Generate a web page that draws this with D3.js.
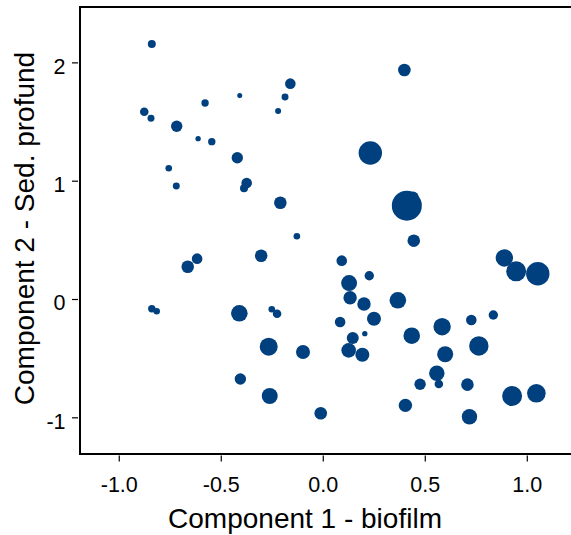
<!DOCTYPE html>
<html>
<head>
<meta charset="utf-8">
<script src="https://cdn.jsdelivr.net/npm/d3@7"></script>
<style>
  html, body { margin: 0; padding: 0; background: #fff; }
  svg { display: block; font-family: "Liberation Sans", Arial, sans-serif; }
</style>
</head>
<body>
<svg id="chart" width="571" height="535"></svg>
<script>
// Site scores on the first two components, with a bubble weight per site
const comp1 = [
  -0.838, -0.159, -0.407, -0.185, -0.577, -0.219, -0.875, -0.842, -0.716, -0.611,
  -0.544, -0.419, -0.755, -0.718, -0.373, -0.386, -0.208, 0.400, 0.233, 0.443,
  0.412, -0.127, -0.302, -0.616, -0.662, -0.838, -0.814, -0.409, -0.250, -0.224,
  -0.265, -0.097, -0.404, -0.260, -0.010, 0.446, 0.093, 0.228, 0.129, 0.134,
  0.202, 0.368, 0.251, 0.085, 0.206, 0.147, 0.127, 0.194, 0.436, 0.585,
  0.600, 0.728, 0.836, 0.765, 0.890, 0.948, 1.054, 0.559, 0.569, 0.477,
  0.709, 0.405, 0.928, 1.047, 0.719
];
const comp2 = [
  2.156, 1.820, 1.719, 1.708, 1.657, 1.589, 1.583, 1.527, 1.460, 1.355,
  1.330, 1.194, 1.105, 0.955, 0.981, 0.936, 0.814, 1.936, 1.234, 0.862,
  0.789, 0.530, 0.366, 0.341, 0.273, -0.082, -0.104, -0.121, -0.087, -0.124,
  -0.403, -0.448, -0.676, -0.820, -0.966, 0.493, 0.324, 0.197, 0.135, 0.011,
  -0.042, -0.011, -0.167, -0.194, -0.293, -0.330, -0.434, -0.471, -0.310, -0.234,
  -0.467, -0.178, -0.135, -0.397, 0.347, 0.234, 0.214, -0.628, -0.719, -0.721,
  -0.724, -0.899, -0.820, -0.797, -0.995
];
const weight = [
  7.1, 12.5, 2.8, 5.4, 6.1, 4.0, 8.2, 5.4, 14.4, 3.2,
  6.1, 14.4, 4.8, 5.4, 12.5, 7.1, 17.6, 17.6, 60.8, 13.4,
  100, 4.8, 17.6, 12.5, 17.6, 6.1, 4.8, 30.6, 4.8, 8.2,
  36, 21.8, 14.4, 28.4, 17.6, 17.6, 12.5, 9.8, 28.4, 20,
  20, 30.6, 21.8, 12.5, 3.2, 16, 23.7, 21.8, 30.6, 33.6,
  28.4, 12.5, 9.8, 41.8, 33.6, 44.4, 60.8, 26.4, 8.2, 14.4,
  17.6, 20, 44.4, 38.4, 26.4
];

const xTicks = [-1, -0.5, 0, 0.5, 1];
const xTickLabels = ["-1.0", "-0.5", "0.0", "0.5", "1.0"];
const yTicks = [-1, 0, 1, 2];
const yTickLabels = ["-1", "0", "1", "2"];

const xTitle = "Component 1 - biofilm";
const yTitle = "Component 2 - Sed. profund";

const W = 571, H = 535;
const plotLeft = 80, plotTop = 7, plotBottom = 454, plotRight = W;

const x = d3.scaleLinear().domain([-1.19, 1.2167]).range([plotLeft, plotRight]);
const y = d3.scaleLinear().domain([-1.310, 2.468]).range([plotBottom, plotTop]);
const r = d3.scaleSqrt().domain([0, 100]).range([0, 15]);

const svg = d3.select("#chart");
const pointColor = "#00407f";

const points = comp1.map((v, i) => ({ c1: v, c2: comp2[i], w: weight[i] }));

svg.append("g")
  .selectAll("circle")
  .data(points)
  .join("circle")
  .attr("cx", d => x(d.c1))
  .attr("cy", d => y(d.c2))
  .attr("r", d => r(d.w))
  .attr("fill", pointColor);

// frame lines: left, top and bottom
const frame = svg.append("g").attr("stroke", "#000").attr("stroke-width", 2);
frame.append("line").attr("x1", plotLeft).attr("x2", plotLeft).attr("y1", plotTop - 1).attr("y2", plotBottom + 1);
frame.append("line").attr("x1", plotLeft - 1).attr("x2", plotRight).attr("y1", plotTop).attr("y2", plotTop);
frame.append("line").attr("x1", plotLeft - 1).attr("x2", plotRight).attr("y1", plotBottom).attr("y2", plotBottom);

// x axis
const xAxis = d3.axisBottom(x)
  .tickValues(xTicks)
  .tickFormat((d, i) => xTickLabels[i])
  .tickSize(6)
  .tickPadding(15.5);
const gx = svg.append("g")
  .attr("transform", `translate(0,${plotBottom + 1.5})`)
  .call(xAxis);
gx.select(".domain").remove();
gx.selectAll(".tick line").attr("stroke", "#000").attr("stroke-width", 1.2);
gx.selectAll(".tick text")
  .attr("fill", "#000")
  .style("font-size", "21.5px")
  .style("font-family", "'Liberation Sans', Arial, sans-serif");

// y axis
const yAxis = d3.axisLeft(y)
  .tickValues(yTicks)
  .tickFormat((d, i) => yTickLabels[i])
  .tickSize(6)
  .tickPadding(6.5);
const gy = svg.append("g")
  .attr("transform", `translate(${plotLeft - 2},0)`)
  .call(yAxis);
gy.select(".domain").remove();
gy.selectAll(".tick line").attr("stroke", "#000").attr("stroke-width", 1.2);
gy.selectAll(".tick text")
  .attr("fill", "#000")
  .attr("dy", "0.5em")
  .style("font-size", "21.5px")
  .style("font-family", "'Liberation Sans', Arial, sans-serif");

// axis titles
svg.append("text")
  .attr("x", 305)
  .attr("y", 528)
  .attr("text-anchor", "middle")
  .style("font-size", "28px")
  .attr("fill", "#000")
  .text(xTitle);

svg.append("text")
  .attr("transform", `translate(34,${(plotTop + plotBottom) / 2 - 2}) rotate(-90)`)
  .attr("text-anchor", "middle")
  .style("font-size", "28px")
  .attr("fill", "#000")
  .text(yTitle);
</script>
</body>
</html>
